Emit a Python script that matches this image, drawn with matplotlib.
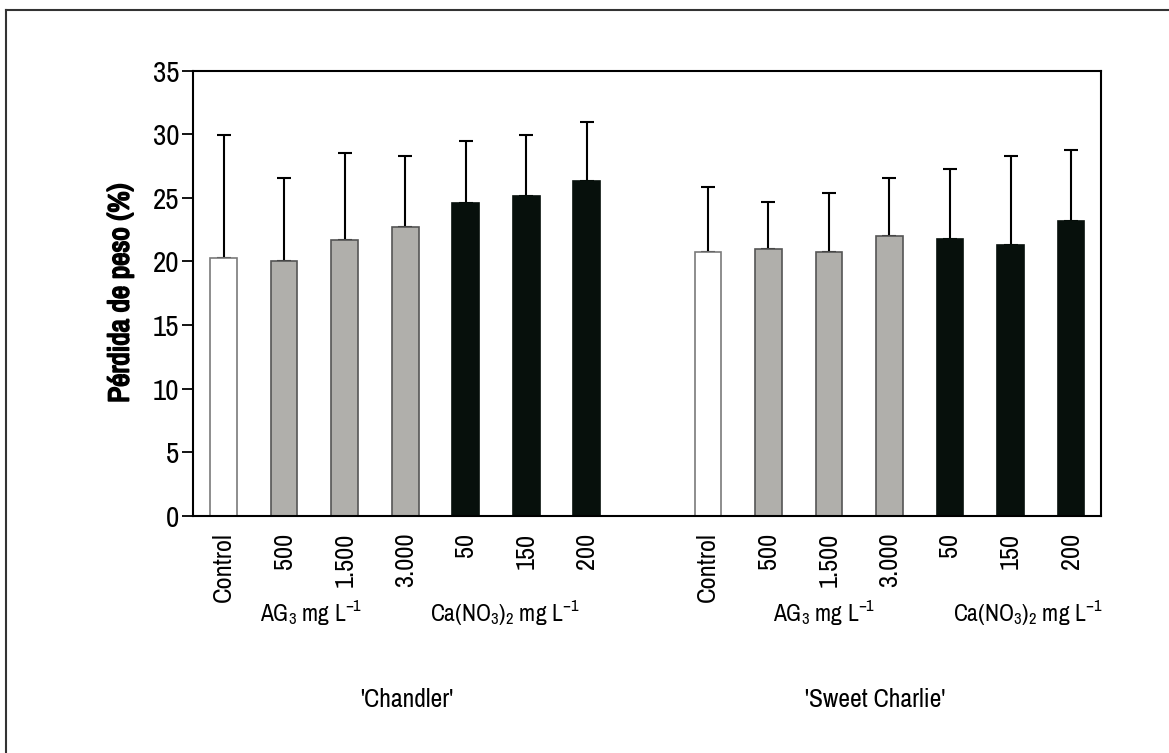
import matplotlib
matplotlib.use("Agg")
import matplotlib.pyplot as plt
from matplotlib import font_manager
import matplotlib.patheffects as pe
from matplotlib.lines import Line2D

# pick a condensed sans if one is installed, else a narrow-ish one
fonts = font_manager.fontManager.ttflist
names = {f.name for f in fonts}
condensed = sorted({f.name for f in fonts
                    if f.stretch in ("condensed", "semi-condensed", "extra-condensed")
                    or "Narrow" in f.name or "Condensed" in f.name})
choices = [n for n in ["Liberation Sans Narrow"] if n in names] + condensed
main_font = choices[0] if choices else ("Roboto" if "Roboto" in names else "Liberation Sans")
stretch = "condensed" if main_font == "DejaVu Sans" else "normal"


def is_bold(w):
    try:
        return int(w) >= 600
    except ValueError:
        return w in ("bold", "heavy", "black", "semibold", "demibold", "extra bold")


has_bold = any(f.name == main_font and is_bold(f.weight) for f in fonts)

plt.rcParams['font.family'] = [main_font, 'DejaVu Sans']
plt.rcParams['font.stretch'] = stretch
plt.rcParams['mathtext.fontset'] = 'custom'
plt.rcParams['mathtext.rm'] = main_font
plt.rcParams['mathtext.it'] = main_font

# data
treatments = ["Control", "500", "1.500", "3.000", "50", "150", "200"]
chandler_mean = [20.3, 20.0, 21.7, 22.7, 24.6, 25.15, 26.3]
chandler_sd = [9.65, 6.6, 6.8, 5.6, 4.9, 4.8, 4.65]
charlie_mean = [20.76, 21.0, 20.76, 21.97, 21.73, 21.26, 23.2]
charlie_sd = [5.1, 3.65, 4.6, 4.63, 5.57, 7.0, 5.57]
cultivars = ["'Chandler'", "'Sweet Charlie'"]
group_labels = ["AG$_3$ mg L$^{-1}$", "Ca(NO$_3$)$_2$ mg L$^{-1}$"]

face = ["white", "#b0afab", "#b0afab", "#b0afab", "#07100c", "#07100c", "#07100c"]
edge = ["#7a7a7a", "#555555", "#555555", "#555555", "#07100c", "#07100c", "#07100c"]

fig = plt.figure(figsize=(11.69, 7.53), dpi=100)
ax = fig.add_axes([0.1654, 0.3151, 0.7767, 0.591])

x1 = list(range(7))
x2 = [i + 8 for i in range(7)]

for xs, means, sds in [(x1, chandler_mean, chandler_sd), (x2, charlie_mean, charlie_sd)]:
    ax.bar(xs, means, width=0.44, color=face, edgecolor=edge, linewidth=1.2, zorder=2)
    ax.errorbar(xs, means, yerr=[[0] * len(sds), sds], fmt="none", ecolor="black",
                elinewidth=1.5, capsize=5, capthick=1.5, zorder=1)

ax.set_xlim(-0.5, 14.5)
ax.set_ylim(0, 35)
ax.set_yticks(range(0, 36, 5))
ax.set_xticks(x1 + x2)
ax.set_xticklabels(treatments + treatments, rotation=90, fontsize=19)
ax.tick_params(axis="x", length=0, pad=12)
ax.tick_params(axis="y", length=8, width=1.3, labelsize=21, pad=2)
for s in ax.spines.values():
    s.set_linewidth(1.5)
ylab = ax.set_ylabel("Pérdida de peso (%)", fontsize=21, fontweight="bold", labelpad=14)
if not has_bold:
    ylab.set_path_effects([pe.withStroke(linewidth=1.3, foreground="black")])

# group labels under the tick labels
trans = ax.get_xaxis_transform()
for xg, lab in zip([1.45, 4.64, 9.92, 13.29], group_labels * 2):
    ax.text(xg, -0.217, lab, transform=trans, ha="center", va="center", fontsize=17)
ax.text(3.02, -0.414, cultivars[0], transform=trans, ha="center", va="center", fontsize=18.5)
ax.text(10.76, -0.414, cultivars[1], transform=trans, ha="center", va="center", fontsize=18.5)

# frame around the figure (top and left visible)
fig.add_artist(Line2D([6 / 1169, 6 / 1169], [0, 1 - 10 / 753], color="#333333", lw=1.5))
fig.add_artist(Line2D([6 / 1169, 1], [1 - 10 / 753, 1 - 10 / 753], color="#333333", lw=1.5))

fig.savefig("out.png", dpi=100)
